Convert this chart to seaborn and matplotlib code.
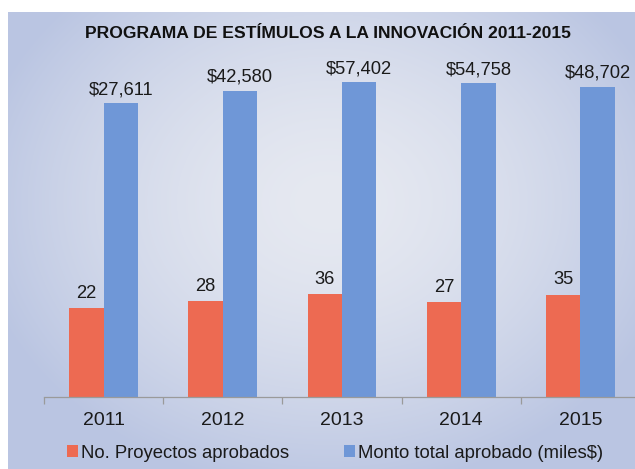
import numpy as np
import pandas as pd
import matplotlib
matplotlib.use("Agg")
import matplotlib.pyplot as plt
import seaborn as sns
from matplotlib.ticker import FixedLocator, NullLocator
from matplotlib.patches import Patch

# ---- data ----
years = ["2011", "2012", "2013", "2014", "2015"]
proyectos = [22, 28, 36, 27, 35]
monto = [27611, 42580, 57402, 54758, 48702]
series_names = ["No. Proyectos aprobados", "Monto total aprobado (miles$)"]
title = "PROGRAMA DE ESTÍMULOS A LA INNOVACIÓN 2011-2015"

df = pd.DataFrame({
    "year": years * 2,
    "value": proyectos + monto,
    "serie": [series_names[0]] * len(years) + [series_names[1]] * len(years),
})

sns.set_theme(style="white")
plt.rcParams['font.family'] = ['Liberation Sans', 'DejaVu Sans']

W, H = 635, 469
fig = plt.figure(figsize=(W / 100, H / 100), dpi=100)
fig.patch.set_facecolor("white")

# background gradient (radial)
bg = fig.add_axes([8 / W, 0, 1 - 8 / W, 1 - 12 / H], zorder=-5)
yy, xx = np.mgrid[0:H - 12, 0:W - 8]
cx, cy, rx, ry = 320, 190, 360, 290
r = np.sqrt(((xx - cx) / rx) ** 2 + ((yy - cy) / ry) ** 2)
t = np.clip(r, 0, 1) ** 1.6
c0 = np.array([230, 233, 241]) / 255
c1 = np.array([186, 197, 226]) / 255
img = c0[None, None, :] + (c1 - c0)[None, None, :] * t[..., None]
bg.imshow(img, aspect="auto", interpolation="bilinear")
bg.axis("off")

left_px, right_px = 44, 640
bottom_px, top_px = 396.7, 66.2
ax = fig.add_axes([left_px / W, 1 - bottom_px / H,
                   (right_px - left_px) / W, (bottom_px - top_px) / H])
ax.patch.set_alpha(0)

palette = {series_names[0]: "#ED6A52", series_names[1]: "#6F97D7"}
ax.set_yscale("log")
sns.barplot(data=df, x="year", y="value", hue="serie", palette=palette,
            width=0.578, saturation=1, ax=ax, legend=False, errorbar=None,
            linewidth=0, edgecolor="none")
ax.set_ylim(1, 1e5)
ax.set_xlim(-0.5, 4.5)

# labels on bars
for i, cont in enumerate(ax.containers):
    labels = [f"{v}" if i == 0 else f"${v:,}" for v in (proyectos if i == 0 else monto)]
    ax.bar_label(cont, labels=labels, padding=3.5 if i else 4.5, fontsize=13.2,
                 color="#1a1a1a")

for s in ["left", "top", "right"]:
    ax.spines[s].set_visible(False)
ax.spines["bottom"].set_color("#9a9a9a")
ax.spines["bottom"].set_linewidth(0.9)
ax.yaxis.set_major_locator(NullLocator())
ax.yaxis.set_minor_locator(NullLocator())
ax.set_xlabel("")
ax.set_ylabel("")
ax.xaxis.set_minor_locator(FixedLocator(np.arange(-0.5, 5, 1.0)))
ax.tick_params(axis="x", which="major", length=0, labelsize=14, pad=11,
               labelcolor="#1a1a1a")
ax.tick_params(axis="x", which="minor", length=5, width=0.9, color="#9a9a9a",
               bottom=True, direction="out")

fig.text(328 / W, 1 - 33 / H, title, ha="center", va="center",
         fontsize=12.6, fontweight="bold", color="#111111")

# legend
handles = [Patch(facecolor=palette[n], edgecolor="none") for n in series_names]
fig.legend(handles, series_names, loc="center", bbox_to_anchor=(335 / W, 1 - 453 / H),
           ncol=2, frameon=False, fontsize=13.3, handlelength=0.6, handleheight=0.6,
           handletextpad=0.15, columnspacing=3.0, labelcolor="#1a1a1a")

fig.savefig("out.png", dpi=100)
